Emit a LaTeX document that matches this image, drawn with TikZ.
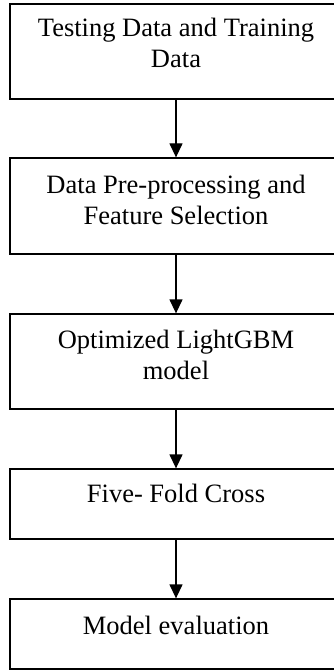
\documentclass[tikz,border=0pt]{standalone}
\usepackage{fontspec}
\setmainfont{Liberation Serif}
\usetikzlibrary{arrows.meta}
\begin{document}
\begin{tikzpicture}[x=1pt,y=1pt,
  box/.style={draw=black,line width=1.3pt,rectangle,inner sep=0pt,minimum width=332pt},
  lbl/.style={inner sep=0pt,align=center,font=\fontsize{26.5}{31.5}\selectfont},
  conn/.style={line width=1.3pt,-{Triangle[width=13pt,length=14pt]}}]
\useasboundingbox (0,0) rectangle (334,-671);
\node[box,minimum height=95pt] (b1) at (176,-51.5) {};
\node[box,minimum height=96pt] (b2) at (176,-206) {};
\node[box,minimum height=95pt] (b3) at (176,-361.5) {};
\node[box,minimum height=70pt] (b4) at (176,-504) {};
\node[box,minimum height=70pt] (b5) at (176,-634) {};
\node[lbl,anchor=base] (t1) at ([yshift=-64.5pt]b1.north) {Testing Data and Training\\Data};
\node[lbl,anchor=base] (t2) at ([yshift=-67.5pt]b2.north) {Data Pre-processing and\\Feature Selection};
\node[lbl,anchor=base] (t3) at ([yshift=-66.5pt]b3.north) {Optimized LightGBM\\model};
\node[lbl,anchor=base] (t4) at ([yshift=-34pt]b4.north) {Five- Fold Cross};
\node[lbl,anchor=base] (t5) at ([yshift=-36pt]b5.north) {Model evaluation};
\draw[conn] (b1) -- (b2);
\draw[conn] (b2) -- (b3);
\draw[conn] (b3) -- (b4);
\draw[conn] (b4) -- (b5);
\end{tikzpicture}
\end{document}
